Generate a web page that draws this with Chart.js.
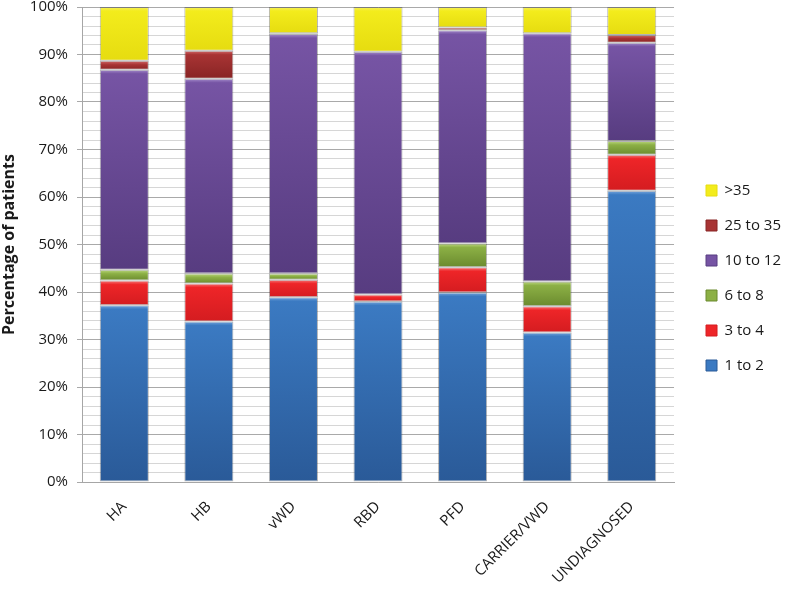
<!DOCTYPE html>
<html>
<head>
<meta charset="utf-8">
<script src="https://cdn.jsdelivr.net/npm/chart.js@4.4.1/dist/chart.umd.min.js"></script>
<style>
  body { margin: 0; background: #fff; }
  #wrap { width: 788px; height: 591px; }
</style>
</head>
<body>
<div id="wrap"><canvas id="chart"></canvas></div>
<script>
const categories = ['HA', 'HB', 'vWD', 'RBD', 'PFD', 'CARRIER/VWD', 'UNDIAGNOSED'];
const seriesNames = ['1 to 2', '3 to 4', '6 to 8', '10 to 12', '25 to 35', '>35'];

// percentage of patients per group (stacked to 100)
const oneToTwo = [37.2, 33.8, 38.9, 38.0, 39.9, 31.5, 61.3];
const threeToFour = [5.2, 8.0, 3.7, 1.5, 5.3, 5.5, 7.6];
const sixToEight = [2.3, 2.1, 1.3, 0, 5.0, 5.2, 2.9];
const tenToTwelve = [42.1, 41.0, 50.4, 51.1, 44.9, 52.3, 20.7];
const twentyFiveTo35 = [1.9, 5.9, 0.2, 0, 0.6, 0, 1.6];
const over35 = [11.3, 9.2, 5.5, 9.4, 4.3, 5.5, 5.9];

const yTicks = [0, 10, 20, 30, 40, 50, 60, 70, 80, 90, 100];

const allSeries = [oneToTwo, threeToFour, sixToEight, tenToTwelve, twentyFiveTo35, over35];

// [highlight, top, bottom]
const palette = [
  ['#76a6dc', '#3b7ac2', '#2a5a98'],
  ['#f57a7a', '#ee2528', '#d41c20'],
  ['#bcd880', '#8cb045', '#6a8a2e'],
  ['#a58ccc', '#7654a4', '#573c80'],
  ['#d26a6a', '#a83434', '#882424'],
  ['#f6f060', '#f3ec1c', '#e6dc10']
];

function segmentFill(si) {
  return (ctx) => {
    const base = palette[si][1];
    if (ctx.type !== 'data') return base;
    const chart = ctx.chart;
    const y = chart.scales.y;
    if (!chart.chartArea || !y) return base;
    let bottom = 0;
    for (let k = 0; k < si; k++) bottom += allSeries[k][ctx.dataIndex] || 0;
    const top = bottom + allSeries[si][ctx.dataIndex];
    const y0 = y.getPixelForValue(top);
    const y1 = y.getPixelForValue(bottom);
    const h = y1 - y0;
    if (h < 2) return base;
    const g = chart.ctx.createLinearGradient(0, y0, 0, y1);
    const hl = Math.min(0.45, 4 / h);
    g.addColorStop(0, palette[si][0]);
    g.addColorStop(hl, palette[si][1]);
    g.addColorStop(1, palette[si][2]);
    return g;
  };
}

const datasets = allSeries.map((vals, i) => ({
  label: seriesNames[i],
  data: vals,
  backgroundColor: segmentFill(i),
  borderColor: 'rgba(40,40,40,0.35)',
  borderWidth: (ctx) => (ctx.raw ? 1 : 0),
  borderSkipped: false
}));

const font = "'Open Sans', 'DejaVu Sans', sans-serif";

new Chart(document.getElementById('chart'), {
  type: 'bar',
  data: { labels: categories, datasets },
  options: {
    responsive: true,
    maintainAspectRatio: false,
    animation: false,
    layout: { padding: { top: 0, right: -3, bottom: 0, left: 0 } },
    datasets: {
      bar: { categoryPercentage: 1, barPercentage: 0.58 }
    },
    scales: {
      x: {
        stacked: true,
        grid: { display: false, drawTicks: false },
        border: { display: true, color: '#a6a6a6', width: 1 },
        ticks: {
          color: '#1a1a1a',
          font: { family: font, size: 15 },
          minRotation: 45,
          maxRotation: 45,
          padding: 16,
          autoSkip: false
        },
        afterFit: (s) => { s.height = 109; }
      },
      y: {
        stacked: true,
        min: 0,
        max: 100,
        afterBuildTicks: (s) => {
          const t = [];
          for (let v = 0; v <= 100; v += 2) t.push({ value: v });
          s.ticks = t;
        },
        grid: {
          color: (ctx) => (yTicks.includes(ctx.tick.value) ? '#a9a9a9' : '#d6d6d6'),
          tickColor: (ctx) => (yTicks.includes(ctx.tick.value) ? '#a9a9a9' : 'rgba(0,0,0,0)'),
          tickLength: 5
        },
        border: { display: true, color: '#a6a6a6', width: 1 },
        ticks: {
          autoSkip: false,
          padding: 9,
          color: '#1a1a1a',
          font: { family: font, size: 15 },
          callback: (v) => (yTicks.includes(v) ? v + '%' : '')
        },
        title: {
          display: true,
          text: 'Percentage of patients',
          color: '#1a1a1a',
          font: { family: font, size: 16, weight: 'bold' },
          padding: { top: 0, bottom: 0 }
        },
        afterFit: (s) => { s.width = 82; s.paddingTop = 7; }
      },
      gap: {
        type: 'linear',
        axis: 'y',
        position: 'right',
        display: true,
        grid: { display: false },
        border: { display: false },
        ticks: { display: false },
        afterFit: (s) => { s.width = 12; }
      }
    },
    plugins: {
      legend: {
        position: 'right',
        align: 'start',
        reverse: true,
        title: {
          display: true,
          text: ' ',
          font: { family: font, size: 10 },
          padding: { top: 151, bottom: 0 }
        },
        labels: {
          boxWidth: 11,
          boxHeight: 11,
          padding: 20,
          color: '#1a1a1a',
          font: { family: font, size: 15 },
          generateLabels: (chart) => {
            const items = Chart.defaults.plugins.legend.labels.generateLabels(chart);
            items.forEach((it) => {
              const p = palette[it.datasetIndex];
              it.fillStyle = p[1];
              it.strokeStyle = p[2];
              it.lineWidth = 1;
            });
            return items;
          }
        }
      },
      tooltip: { enabled: false }
    }
  }
});
</script>
</body>
</html>
